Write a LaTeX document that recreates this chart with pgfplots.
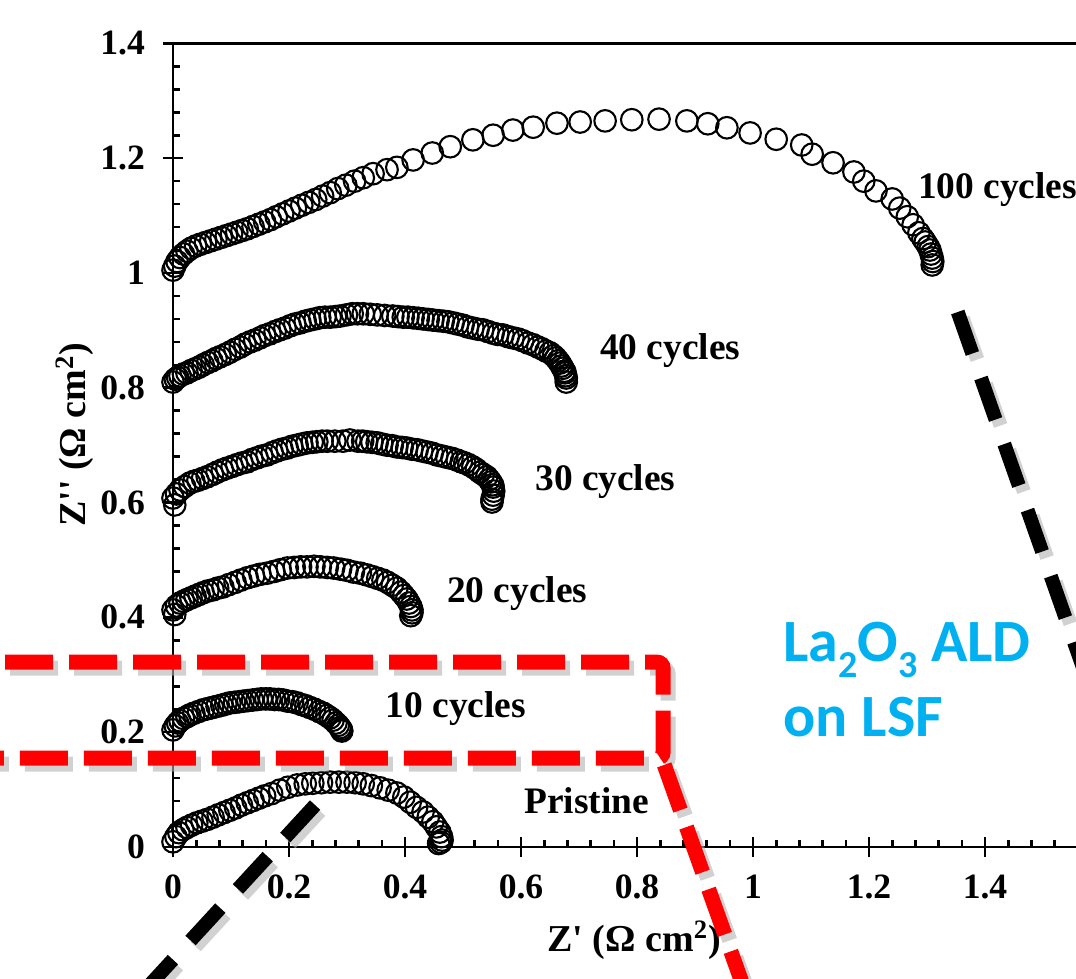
\documentclass[border=0pt]{standalone}
\usepackage{fontspec}
\setmainfont{Liberation Serif}
\newfontfamily\calibri{Carlito}
\usepackage{pgfplots}
\pgfplotsset{compat=1.18}
\definecolor{ldcyan}{RGB}{0,176,240}

\pgfplotstableread{
x y
0 0.009
0.005 0.018
0.010 0.025
0.017 0.030
0.024 0.034
0.032 0.038
0.041 0.042
0.050 0.045
0.059 0.048
0.069 0.052
0.078 0.056
0.088 0.060
0.098 0.064
0.108 0.068
0.118 0.073
0.128 0.077
0.138 0.081
0.148 0.085
0.158 0.089
0.170 0.093
0.184 0.099
0.198 0.104
0.214 0.108
0.228 0.110
0.241 0.111
0.256 0.112
0.271 0.113
0.286 0.113
0.300 0.113
0.314 0.112
0.328 0.110
0.342 0.107
0.357 0.103
0.371 0.099
0.386 0.094
0.398 0.087
0.409 0.078
0.420 0.069
0.431 0.061
0.440 0.052
0.448 0.044
0.454 0.035
0.460 0.026
0.463 0.018
0.464 0.012
0.462 0.008
0.458 0.006
}\pristine

\pgfplotstableread{
x y
0 0.204
0.004 0.211
0.008 0.216
0.012 0.220
0.018 0.224
0.024 0.227
0.029 0.230
0.036 0.233
0.044 0.236
0.052 0.239
0.060 0.241
0.068 0.243
0.076 0.245
0.084 0.247
0.091 0.249
0.098 0.251
0.106 0.252
0.114 0.253
0.121 0.254
0.129 0.255
0.137 0.256
0.145 0.257
0.152 0.258
0.160 0.258
0.167 0.258
0.175 0.257
0.182 0.257
0.190 0.256
0.198 0.254
0.206 0.253
0.214 0.251
0.222 0.248
0.229 0.246
0.236 0.243
0.244 0.240
0.252 0.236
0.259 0.233
0.265 0.229
0.271 0.225
0.276 0.221
0.281 0.216
0.285 0.212
0.288 0.208
0.290 0.205
0.291 0.202
}\cycA

\pgfplotstableread{
x y
0 0.413
0.003 0.405
0.006 0.420
0.012 0.425
0.018 0.428
0.024 0.431
0.031 0.434
0.038 0.437
0.045 0.440
0.052 0.443
0.060 0.446
0.069 0.448
0.077 0.451
0.086 0.453
0.096 0.457
0.107 0.461
0.117 0.465
0.128 0.469
0.139 0.472
0.150 0.475
0.162 0.477
0.174 0.480
0.185 0.483
0.197 0.486
0.209 0.487
0.220 0.488
0.231 0.488
0.243 0.489
0.254 0.488
0.266 0.487
0.277 0.486
0.289 0.484
0.300 0.482
0.311 0.479
0.323 0.477
0.334 0.474
0.344 0.471
0.353 0.468
0.362 0.465
0.370 0.461
0.378 0.456
0.386 0.451
0.393 0.444
0.398 0.438
0.403 0.432
0.407 0.425
0.410 0.419
0.412 0.413
0.412 0.408
0.410 0.403
}\cycB

\pgfplotstableread{
x y
0 0.608
0.003 0.596
0.006 0.615
0.012 0.622
0.020 0.628
0.029 0.634
0.036 0.637
0.043 0.639
0.051 0.642
0.059 0.645
0.068 0.649
0.076 0.653
0.085 0.657
0.093 0.660
0.102 0.663
0.110 0.666
0.119 0.669
0.128 0.671
0.136 0.675
0.145 0.678
0.153 0.681
0.162 0.683
0.171 0.687
0.179 0.690
0.188 0.693
0.197 0.695
0.205 0.698
0.214 0.700
0.222 0.702
0.231 0.704
0.240 0.705
0.248 0.706
0.257 0.707
0.266 0.707
0.279 0.707
0.293 0.707
0.305 0.709
0.319 0.707
0.327 0.707
0.334 0.706
0.343 0.705
0.352 0.704
0.360 0.702
0.369 0.700
0.378 0.699
0.386 0.697
0.395 0.696
0.403 0.695
0.412 0.693
0.421 0.692
0.429 0.690
0.438 0.688
0.447 0.686
0.455 0.683
0.464 0.681
0.472 0.679
0.481 0.677
0.490 0.674
0.497 0.671
0.503 0.669
0.510 0.666
0.517 0.662
0.523 0.658
0.529 0.653
0.535 0.649
0.541 0.645
0.545 0.640
0.548 0.636
0.551 0.631
0.552 0.627
0.553 0.620
0.552 0.613
0.550 0.606
0.550 0.601
}\cycC

\pgfplotstableread{
x y
0 0.810
0.004 0.815
0.008 0.818
0.012 0.821
0.018 0.824
0.024 0.826
0.031 0.830
0.038 0.833
0.045 0.836
0.052 0.840
0.060 0.844
0.067 0.847
0.074 0.851
0.081 0.854
0.090 0.858
0.098 0.862
0.107 0.867
0.116 0.871
0.124 0.876
0.133 0.880
0.141 0.883
0.150 0.887
0.158 0.891
0.167 0.894
0.176 0.898
0.184 0.901
0.193 0.904
0.202 0.908
0.210 0.911
0.219 0.913
0.228 0.916
0.236 0.918
0.245 0.920
0.253 0.922
0.262 0.923
0.271 0.923
0.280 0.924
0.288 0.925
0.299 0.927
0.309 0.929
0.318 0.929
0.328 0.929
0.340 0.928
0.352 0.927
0.365 0.926
0.379 0.925
0.388 0.924
0.397 0.923
0.405 0.923
0.414 0.922
0.423 0.921
0.431 0.920
0.440 0.919
0.448 0.918
0.457 0.917
0.466 0.916
0.474 0.915
0.483 0.913
0.491 0.911
0.500 0.909
0.508 0.906
0.517 0.904
0.526 0.902
0.534 0.901
0.543 0.898
0.552 0.895
0.560 0.893
0.569 0.892
0.578 0.889
0.586 0.887
0.595 0.885
0.603 0.882
0.612 0.878
0.621 0.875
0.629 0.871
0.636 0.868
0.643 0.864
0.650 0.861
0.656 0.856
0.660 0.852
0.664 0.847
0.667 0.843
0.670 0.838
0.672 0.834
0.675 0.829
0.676 0.826
0.677 0.821
0.678 0.817
0.678 0.810
}\cycD

\pgfplotstableread{
x y
0 1.005
0.003 1.012
0.007 1.020
0.012 1.027
0.018 1.033
0.024 1.038
0.031 1.043
0.039 1.047
0.047 1.050
0.056 1.053
0.065 1.056
0.074 1.059
0.083 1.062
0.092 1.065
0.101 1.068
0.110 1.071
0.119 1.074
0.128 1.077
0.138 1.081
0.148 1.085
0.158 1.089
0.168 1.093
0.178 1.098
0.189 1.103
0.200 1.108
0.211 1.113
0.222 1.118
0.234 1.123
0.246 1.128
0.258 1.134
0.271 1.140
0.284 1.147
0.298 1.153
0.313 1.160
0.328 1.166
0.345 1.173
0.369 1.180
0.386 1.184
0.414 1.197
0.447 1.209
0.478 1.220
0.517 1.232
0.552 1.240
0.586 1.249
0.621 1.254
0.662 1.261
0.702 1.263
0.745 1.265
0.791 1.267
0.838 1.268
0.886 1.265
0.922 1.260
0.955 1.253
0.995 1.244
1.040 1.233
1.084 1.223
1.102 1.207
1.138 1.192
1.174 1.176
1.191 1.160
1.212 1.143
1.240 1.129
1.253 1.113
1.266 1.098
1.276 1.084
1.286 1.070
1.293 1.060
1.297 1.054
1.302 1.046
1.305 1.040
1.307 1.033
1.309 1.026
1.310 1.020
1.309 1.014
}\cycE

\begin{document}
\begin{tikzpicture}
\begin{axis}[
  x=290pt, y=287pt,
  xmin=0, xmax=1.6, ymin=0, ymax=1.4,
  xtick={0,0.2,0.4,0.6,0.8,1,1.2,1.4,1.6},
  ytick={0,0.2,0.4,0.6,0.8,1,1.2,1.4},
  minor tick num=4,
  xtick pos=left, ytick pos=left,
  tick align=inside,
  major tick length=5pt, minor tick length=3.5pt,
  every tick/.style={black, line width=1.3pt},
  extra x ticks={0,0.2,0.4,0.6,0.8,1,1.2,1.4,1.6},
  extra x tick labels={},
  extra x tick style={tick align=outside},
  extra y ticks={0,0.2,0.4,0.6,0.8,1,1.2,1.4},
  extra y tick labels={},
  extra y tick style={tick align=outside},
  axis line style={line width=1.4pt},
  /pgf/number format/assume math mode=true,
  /pgf/number format/fixed,
  ticklabel style={font=\fontsize{17.8}{21}\selectfont\bfseries},
  xticklabel style={yshift=-10.5pt},
  yticklabel style={xshift=-10.5pt},
  xlabel={Z\textquotesingle{} (Ω cm\textsuperscript{2})},
  ylabel={Z\textquotesingle\textquotesingle{} (Ω cm\textsuperscript{2})},
  label style={font=\fontsize{19}{22}\selectfont\bfseries},
  xlabel style={at={(axis description cs:0.497,-0.116)}, anchor=center},
  ylabel style={at={(axis description cs:-0.106,0.513)}, anchor=center, rotate=0},
  clip=false,
  ser/.style={only marks, mark=o, mark size=5.4pt, black, line width=1.05pt},
]
\addplot[ser] table {\pristine};
\addplot[ser] table {\cycA};
\addplot[ser] table {\cycB};
\addplot[ser] table {\cycC};
\addplot[ser] table {\cycD};
\addplot[ser] table {\cycE};

\begin{scope}[every node/.style={anchor=west, inner sep=0pt, font=\fontsize{18.7}{22}\selectfont\bfseries}]
\node at (axis cs:1.284,1.145) {100 cycles};
\node at (axis cs:0.736,0.864) {40 cycles};
\node at (axis cs:0.624,0.636) {30 cycles};
\node at (axis cs:0.472,0.442) {20 cycles};
\node at (axis cs:0.366,0.242) {10 cycles};
\node at (axis cs:0.605,0.080) {Pristine};
\end{scope}
\node[anchor=base west, inner sep=0pt, align=left, text=ldcyan,
  font=\calibri\bfseries\fontsize{30}{37.5}\selectfont]
  at (axis cs:1.052,0.192)
  {La\raisebox{-8pt}{\fontsize{19}{19}\selectfont 2}O\raisebox{-8pt}{\fontsize{19}{19}\selectfont 3} ALD\\on LSF};

\coordinate (bbl) at (axis cs:-0.2983,-0.230);
\coordinate (btr) at (axis cs:1.5569,1.4756);
\coordinate (r1) at (axis cs:-0.40,0.322);
\coordinate (r2) at (axis cs:0.845,0.322);
\coordinate (r3) at (axis cs:0.845,0.155);
\coordinate (r4) at (axis cs:-0.40,0.155);
\coordinate (d1) at (axis cs:0.847,0.143);
\coordinate (d2) at (axis cs:1.000,-0.290);
\coordinate (k1) at (axis cs:1.353,0.932);
\coordinate (k2) at (axis cs:1.650,0.080);
\coordinate (m1) at (axis cs:0.245,0.073);
\coordinate (m2) at (axis cs:-0.080,-0.284);
\end{axis}

% shadows
\begin{scope}[transform canvas={xshift=2.5pt, yshift=-3pt}, black!30, opacity=0.6]
\draw[line width=7.5pt, dash pattern=on 24pt off 8pt, rounded corners=3pt] (r1) -- (r2) -- (r3) -- (r4);
\draw[line width=7.5pt, dash pattern=on 24pt off 9pt] (d1) -- (d2);
\draw[line width=7pt, dash pattern=on 22pt off 13pt] (k1) -- (k2);
\draw[line width=7pt, dash pattern=on 22pt off 13pt] (m1) -- (m2);
\end{scope}
\draw[red, line width=7.5pt, dash pattern=on 24pt off 8pt, rounded corners=3pt] (r1) -- (r2) -- (r3) -- (r4);
\draw[red, line width=7.5pt, dash pattern=on 24pt off 9pt] (d1) -- (d2);
\draw[black, line width=7pt, dash pattern=on 22pt off 13pt] (k1) -- (k2);
\draw[black, line width=7pt, dash pattern=on 22pt off 13pt] (m1) -- (m2);

\pgfresetboundingbox
\useasboundingbox (bbl) rectangle (btr);
\end{tikzpicture}
\end{document}
